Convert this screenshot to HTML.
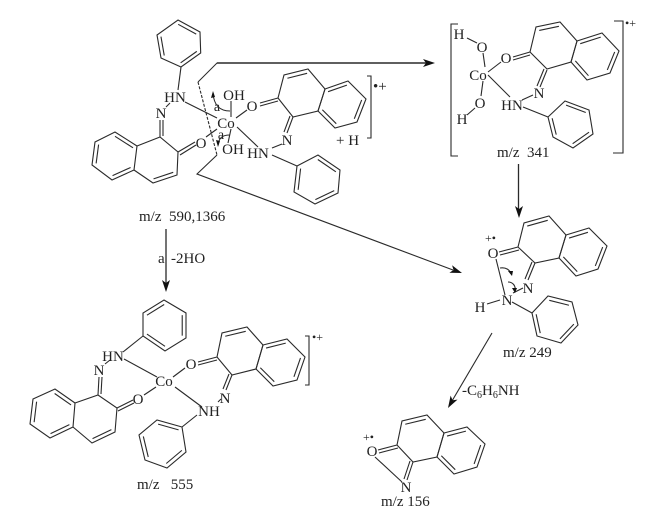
<!DOCTYPE html>
<html><head><meta charset="utf-8">
<style>
html,body{margin:0;padding:0;background:#fff;width:660px;height:519px;overflow:hidden}
svg{display:block}
text{font-family:"Liberation Serif",serif;font-size:15px;fill:#222;white-space:pre}
.c{text-anchor:middle}
line,polyline,polygon,path{stroke:#2a2a2a;stroke-width:1.1;fill:none;vector-effect:non-scaling-stroke}
polygon.a{fill:#111;stroke:none}
</style></head><body>
<svg width="660" height="519" viewBox="0 0 660 519" xmlns="http://www.w3.org/2000/svg">

<!-- TOP LEFT COMPLEX -->
<polygon points="178,20 200,32 200.7,53 181,67 161,58 157,35"/>
<g transform="translate(179 44) scale(.82) translate(-179 -44)"><line x1="178" y1="20" x2="200" y2="32"/><line x1="200.7" y1="53" x2="181" y2="67"/><line x1="161" y1="58" x2="157" y2="35"/></g>
<line x1="181" y1="67" x2="178" y2="90"/>
<text x="175" y="102" class="c">HN</text>
<text x="161" y="118" class="c">N</text>
<line x1="166" y1="107" x2="170" y2="103"/>
<line x1="160" y1="120" x2="160" y2="137"/><line x1="163" y1="120" x2="163" y2="136"/>
<polygon points="137,146 115,132 95,142 92,165 112,180 134,170"/>
<g transform="translate(115 156) scale(.82) translate(-115 -156)"><line x1="137" y1="146" x2="115" y2="132"/><line x1="95" y1="142" x2="92" y2="165"/><line x1="112" y1="180" x2="134" y2="170"/></g>
<polyline points="137,146 160,137 178,152 177,175 153,183 134,170"/>
<g transform="translate(156 160) scale(.82) translate(-156 -160)"><line x1="177" y1="175" x2="153" y2="183"/></g>
<line x1="178" y1="152" x2="195" y2="142"/><line x1="180" y1="155" x2="196" y2="145"/>
<text x="201" y="148" class="c">O</text>
<text x="226" y="128" class="c">Co</text>
<line x1="185" y1="102" x2="217" y2="118"/>
<line x1="206" y1="137" x2="217" y2="129"/>
<text x="234" y="100" class="c">OH</text>
<text x="233" y="154" class="c">OH</text>
<line x1="231" y1="117" x2="231" y2="101"/>
<line x1="231" y1="129" x2="228" y2="143"/>
<text x="252" y="111" class="c">O</text>
<line x1="236" y1="118" x2="247" y2="110"/>
<line x1="260" y1="103" x2="278" y2="98"/><line x1="260" y1="106" x2="278" y2="101"/>
<polyline points="278,98 284,75 308,69 325,89 318,111 293,117 278,98"/>
<g transform="translate(303 93) scale(.82) translate(-303 -93)"><line x1="284" y1="75" x2="308" y2="69"/></g>
<polygon points="325,89 348,81 366,99 357,122 335,128 318,111"/>
<g transform="translate(342 104) scale(.82) translate(-342 -104)"><line x1="325" y1="89" x2="348" y2="81"/><line x1="366" y1="99" x2="357" y2="122"/><line x1="335" y1="128" x2="318" y2="111"/></g>
<text x="287" y="145" class="c">N</text>
<line x1="293" y1="117" x2="287" y2="133"/><line x1="290" y1="116" x2="284" y2="132"/>
<text x="258" y="158" class="c">HN</text>
<line x1="237" y1="127" x2="258" y2="147"/>
<line x1="272" y1="148" x2="282" y2="144"/>
<line x1="272" y1="155" x2="297" y2="166"/>
<polygon points="297,166 318,155 340,170 338,193 315,204 294,192"/>
<g transform="translate(317 180) scale(.82) translate(-317 -180)"><line x1="318" y1="155" x2="340" y2="170"/><line x1="338" y1="193" x2="315" y2="204"/><line x1="294" y1="192" x2="297" y2="166"/></g>
<polyline points="367,76 371,76 371,138 367,138"/>
<text x="373" y="91">&#8226;+</text>
<text x="336" y="145">+ H</text>
<text x="217" y="111" class="c" style="font-size:14px">a</text>
<text x="221" y="139" class="c" style="font-size:14px">a</text>
<path d="M230 111 C220 111 214 106 213 93"/>
<polygon class="a" points="213,91 211,98 215,97"/>
<path d="M230 135 C222 135 219 138 218 145"/>
<polygon class="a" points="218,147 216,140 220,141"/>
<line x1="198" y1="82" x2="217" y2="155" style="stroke-dasharray:3 1.5"/>
<polyline points="198,82 217,63 426,63" style="stroke-width:1"/>
<line x1="217" y1="63" x2="426" y2="63" style="stroke-width:1.4"/>
<polygon class="a" points="435,63 423,59 426,63 423,67"/>
<polyline points="217,155 197,174 453,270"/>
<polygon class="a" points="462,273 449.4,272.7 453.5,270 452.1,265.2"/>
<text x="139" y="221">m/z  590,1366</text>
<line x1="166" y1="229" x2="166" y2="284" style="stroke-width:1.3"/>
<polygon class="a" points="166,292 162,280 166,283 170,280"/>
<text x="158" y="263">a</text>
<text x="171" y="263">-2HO</text>

<!-- TOP RIGHT m/z 341 -->
<polyline points="458,24 451,24 451,156 458,156"/>
<polyline points="614,21 623,21 623,153 613,153"/>
<text x="625" y="27" style="font-size:12px">&#8226;+</text>
<text x="459" y="39" class="c">H</text>
<line x1="467" y1="38" x2="477" y2="43"/>
<text x="482" y="52" class="c">O</text>
<line x1="483" y1="53" x2="485" y2="67"/>
<text x="478" y="80" class="c">Co</text>
<line x1="483" y1="81" x2="481" y2="96"/>
<text x="480" y="108" class="c">O</text>
<line x1="475" y1="108" x2="467" y2="115"/>
<text x="462" y="124" class="c">H</text>
<text x="506" y="63" class="c">O</text>
<line x1="488" y1="72" x2="501" y2="62"/>
<line x1="513" y1="57" x2="530" y2="52"/><line x1="513" y1="60" x2="530" y2="55"/>
<polyline points="530,52 536,27 560,22 577,41 571,62 547,69 530,52"/>
<g transform="translate(554 46) scale(.82) translate(-554 -46)"><line x1="536" y1="27" x2="560" y2="22"/></g>
<polygon points="577,41 602,33 619,51 610,73 587,80 571,62"/>
<g transform="translate(595 56) scale(.82) translate(-595 -56)"><line x1="577" y1="41" x2="602" y2="33"/><line x1="619" y1="51" x2="610" y2="73"/><line x1="587" y1="80" x2="571" y2="62"/></g>
<text x="539" y="98" class="c">N</text>
<line x1="547" y1="70" x2="540" y2="87"/><line x1="544" y1="69" x2="537" y2="86"/>
<text x="512" y="110" class="c">HN</text>
<line x1="488" y1="75" x2="510" y2="97"/>
<line x1="522" y1="100" x2="533" y2="95"/>
<line x1="523" y1="107" x2="548" y2="117"/>
<polygon points="548,117 565,101 589,110 593,134 573,148 553,137"/>
<g transform="translate(571 124) scale(.82) translate(-571 -124)"><line x1="565" y1="101" x2="589" y2="110"/><line x1="593" y1="134" x2="573" y2="148"/><line x1="553" y1="137" x2="548" y2="117"/></g>
<text x="497" y="157">m/z  341</text>
<line x1="518.5" y1="164" x2="518.5" y2="210" style="stroke-width:1.3"/>
<polygon class="a" points="519,218 515,206 519,209 523,206"/>

<!-- RIGHT m/z 249 -->
<text x="485" y="242" style="font-size:12px">+&#8226;</text>
<text x="493" y="258" class="c">O</text>
<line x1="499" y1="252" x2="518" y2="247"/><line x1="500" y1="255" x2="519" y2="250"/>
<polyline points="518,247 524,223 549,216 566,235 559,258 535,263 518,247"/>
<g transform="translate(542 240) scale(.82) translate(-542 -240)"><line x1="524" y1="223" x2="549" y2="216"/></g>
<polygon points="566,235 589,228 607,246 598,269 576,276 559,258"/>
<g transform="translate(583 252) scale(.82) translate(-583 -252)"><line x1="566" y1="235" x2="589" y2="228"/><line x1="607" y1="246" x2="598" y2="269"/><line x1="576" y1="276" x2="559" y2="258"/></g>
<text x="528" y="293" class="c">N</text>
<line x1="535" y1="263" x2="528" y2="280"/><line x1="532" y1="262" x2="525" y2="279"/>
<text x="507" y="305" class="c">N</text>
<line x1="496" y1="259" x2="505" y2="295"/>
<line x1="513" y1="293" x2="523" y2="288"/>
<text x="480" y="312" class="c">H</text>
<line x1="487" y1="304" x2="500" y2="300"/>
<line x1="512" y1="302" x2="532" y2="313"/>
<polygon points="532,313 548,296 572,302 578,325 561,343 537,336"/>
<g transform="translate(555 320) scale(.82) translate(-555 -320)"><line x1="548" y1="296" x2="572" y2="302"/><line x1="578" y1="325" x2="561" y2="343"/><line x1="537" y1="336" x2="532" y2="313"/></g>
<path d="M500 268 C506 267 510 270 511 274"/>
<polygon class="a" points="512,276 508,271 513,271"/>
<path d="M508 282 C513 282 516 286 515 291"/>
<polygon class="a" points="515,293 512,288 517,288"/>
<text x="503" y="357">m/z 249</text>
<line x1="492" y1="333" x2="452" y2="401"/>
<polygon class="a" points="448,408 450.6,395.6 452.6,400.2 457.5,399.6"/>
<text x="462" y="395">-C<tspan dy="3" style="font-size:10px">6</tspan><tspan dy="-3">H</tspan><tspan dy="3" style="font-size:10px">6</tspan><tspan dy="-3">NH</tspan></text>

<!-- BOTTOM RIGHT m/z 156 -->
<text x="363" y="441" style="font-size:12px">+&#8226;</text>
<text x="372" y="456" class="c">O</text>
<line x1="378" y1="450" x2="397" y2="445"/><line x1="379" y1="453" x2="398" y2="448"/>
<polyline points="397,445 402,421 427,415 444,433 437,457 413,462 397,445"/>
<g transform="translate(420 439) scale(.82) translate(-420 -439)"><line x1="402" y1="421" x2="427" y2="415"/></g>
<polygon points="444,433 467,427 485,444 477,467 454,474 437,457"/>
<g transform="translate(461 450) scale(.82) translate(-461 -450)"><line x1="444" y1="433" x2="467" y2="427"/><line x1="485" y1="444" x2="477" y2="467"/><line x1="454" y1="474" x2="437" y2="457"/></g>
<text x="406" y="492" class="c">N</text>
<line x1="413" y1="462" x2="407" y2="480"/><line x1="410" y1="461" x2="404" y2="479"/>
<line x1="375" y1="457" x2="402" y2="482"/>
<text x="381" y="506">m/z 156</text>

<!-- BOTTOM LEFT m/z 555 -->
<polygon points="164,300 186,313 186,338 165,351 143,336 143,313"/>
<g transform="translate(165 325) scale(.82) translate(-165 -325)"><line x1="164" y1="300" x2="143" y2="313"/><line x1="186" y1="313" x2="186" y2="338"/><line x1="165" y1="351" x2="143" y2="336"/></g>
<line x1="143" y1="336" x2="123" y2="352"/>
<text x="113" y="361" class="c">HN</text>
<text x="99" y="375" class="c">N</text>
<line x1="105" y1="364" x2="110" y2="360"/>
<line x1="99" y1="377" x2="98" y2="395"/><line x1="102" y1="377" x2="101" y2="394"/>
<polygon points="75,403 55,389 33,399 30,424 50,438 73,427"/>
<g transform="translate(53 414) scale(.82) translate(-53 -414)"><line x1="75" y1="403" x2="55" y2="389"/><line x1="33" y1="399" x2="30" y2="424"/><line x1="50" y1="438" x2="73" y2="427"/></g>
<polyline points="75,403 98,395 117,408 115,432 92,443 73,427"/>
<g transform="translate(95 419) scale(.82) translate(-95 -419)"><line x1="115" y1="432" x2="92" y2="443"/></g>
<line x1="117" y1="408" x2="133" y2="400"/><line x1="118" y1="411" x2="134" y2="403"/>
<text x="138" y="404" class="c">O</text>
<text x="164" y="386" class="c">Co</text>
<line x1="124" y1="359" x2="157" y2="377"/>
<line x1="144" y1="395" x2="156" y2="387"/>
<line x1="173" y1="377" x2="185" y2="368"/>
<text x="191" y="369" class="c">O</text>
<line x1="198" y1="362" x2="217" y2="357"/><line x1="198" y1="365" x2="217" y2="360"/>
<polyline points="217,357 222,333 247,327 263,345 256,369 232,375 217,357"/>
<g transform="translate(240 351) scale(.82) translate(-240 -351)"><line x1="222" y1="333" x2="247" y2="327"/></g>
<polygon points="263,345 287,339 305,357 297,380 273,386 256,369"/>
<g transform="translate(280 362) scale(.82) translate(-280 -362)"><line x1="263" y1="345" x2="287" y2="339"/><line x1="305" y1="357" x2="297" y2="380"/><line x1="273" y1="386" x2="256" y2="369"/></g>
<text x="225" y="403" class="c">N</text>
<line x1="232" y1="375" x2="226" y2="390"/><line x1="229" y1="374" x2="223" y2="389"/>
<text x="209" y="416" class="c">NH</text>
<line x1="175" y1="387" x2="202" y2="407"/>
<line x1="218" y1="402" x2="221" y2="399"/>
<line x1="197" y1="415" x2="182" y2="427"/>
<polygon points="182,427 157,420 139,435 145,460 167,468 186,452"/>
<g transform="translate(163 443) scale(.82) translate(-163 -443)"><line x1="182" y1="427" x2="157" y2="420"/><line x1="139" y1="435" x2="145" y2="460"/><line x1="167" y1="468" x2="186" y2="452"/></g>
<polyline points="305,336 309,336 309,385 305,385"/>
<text x="312" y="341" style="font-size:12px">&#8226;+</text>
<text x="137" y="489">m/z   555</text>
</svg>
</body></html>
